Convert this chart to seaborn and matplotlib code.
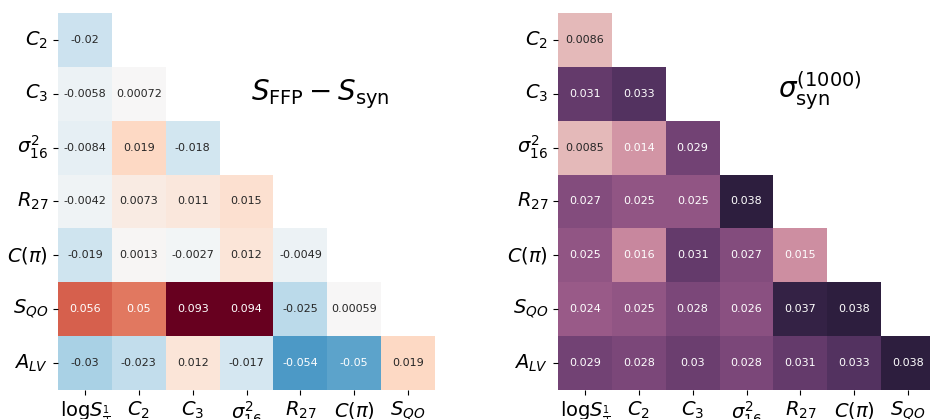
import numpy as np
import pandas as pd
import matplotlib
matplotlib.use("Agg")
import matplotlib.pyplot as plt
import seaborn as sns

# labels
row_labels = [r"$C_2$", r"$C_3$", r"$\sigma^2_{16}$", r"$R_{27}$", r"$C(\pi)$", r"$S_{QO}$", r"$A_{LV}$"]
col_labels = [r"$\mathrm{log}S_{\frac{1}{2}}$", r"$C_2$", r"$C_3$", r"$\sigma^2_{16}$", r"$R_{27}$", r"$C(\pi)$", r"$S_{QO}$"]

# S_FFP - S_syn (lower triangle, row by row)
diff_rows = [
    [-0.02],
    [-0.0058, 0.00072],
    [-0.0084, 0.019, -0.018],
    [-0.0042, 0.0073, 0.011, 0.015],
    [-0.019, 0.0013, -0.0027, 0.012, -0.0049],
    [0.056, 0.05, 0.093, 0.094, -0.025, 0.00059],
    [-0.03, -0.023, 0.012, -0.017, -0.054, -0.05, 0.019],
]

# sigma_syn^(1000)
sigma_rows = [
    [0.0086],
    [0.031, 0.033],
    [0.0085, 0.014, 0.029],
    [0.027, 0.025, 0.025, 0.038],
    [0.025, 0.016, 0.031, 0.027, 0.015],
    [0.024, 0.025, 0.028, 0.026, 0.037, 0.038],
    [0.029, 0.028, 0.03, 0.028, 0.031, 0.033, 0.038],
]


def to_frame(rows):
    n = len(col_labels)
    mat = np.full((len(rows), n), np.nan)
    for i, r in enumerate(rows):
        mat[i, :len(r)] = r
    return pd.DataFrame(mat, index=row_labels, columns=col_labels)


diff_df = to_frame(diff_rows)
sigma_df = to_frame(sigma_rows)

fig = plt.figure(figsize=(9.3, 4.19), dpi=100)
ax1 = fig.add_axes([0.0624, 0.0692, 0.4054, 0.8998])
ax2 = fig.add_axes([0.6, 0.0692, 0.4054, 0.8998])

sns.heatmap(diff_df, ax=ax1, cmap="RdBu_r", center=0, annot=True,
            annot_kws={"fontsize": 8}, cbar=False)
sns.heatmap(sigma_df, ax=ax2, cmap=sns.cubehelix_palette(as_cmap=True), annot=True,
            vmin=0.005, vmax=0.038, annot_kws={"fontsize": 8}, cbar=False)

for ax in (ax1, ax2):
    ax.set_xticklabels(col_labels, rotation=0, fontsize=14)
    ax.set_yticklabels(row_labels, rotation=0, fontsize=14)
    ax.set_xlabel("")
    ax.set_ylabel("")

ax1.text(4.87, 1.5, r"$S_{\rm FFP} - S_{\rm syn}$", fontsize=20, ha="center", va="center")
ax2.text(4.87, 1.45, r"$\sigma_{\rm syn}^{(1000)}$", fontsize=20, ha="center", va="center")

fig.savefig("out.png", dpi=100)
